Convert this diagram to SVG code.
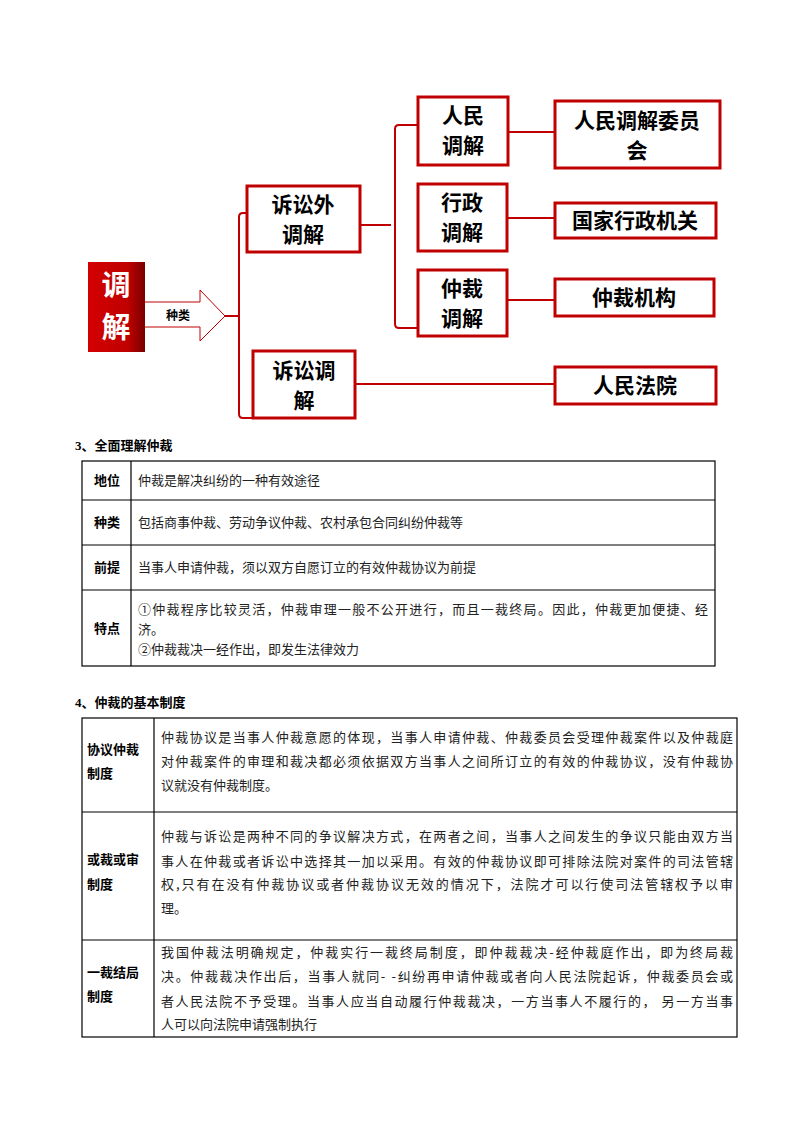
<svg xmlns="http://www.w3.org/2000/svg" width="800" height="1132" viewBox="0 0 800 1132">
<style>
.bx{fill:#fff;stroke:#c00000;stroke-width:3}
.ln{fill:none;stroke:#c00000;stroke-width:2}
.nt{font-family:"Noto Sans CJK SC",sans-serif;font-weight:bold;font-size:21px;fill:#000;text-anchor:middle}
.tb{fill:none;stroke:#000;stroke-width:1.2}
.h{font-family:"Liberation Serif","Noto Sans CJK SC",serif;font-weight:bold;font-size:13px;fill:#000}
.b{font-family:"Noto Sans CJK SC",sans-serif;font-size:13px;fill:#222}
</style>
<defs>
<linearGradient id="rg" x1="0" y1="0" x2="1" y2="0">
<stop offset="0" stop-color="#d40000"/><stop offset="0.7" stop-color="#c00000"/><stop offset="1" stop-color="#7a0000"/>
</linearGradient>
</defs>
<rect width="800" height="1132" fill="#fff"/>
<g id="connectors">
<path class="ln" d="M225,316 H239 M250,213 H243 Q239,213 239,217 V414 Q239,418 243,418 H252"/>
<path class="ln" d="M360,225 H391 M420,125 H399 Q395,125 395,129 V324 Q395,328 399,328 H420"/>
<path class="ln" d="M508,132 H555 M507,218 H555 M507,300 H555 M355,384 H555" stroke-width="1.5"/>
</g>
<g id="n-tiaojie"><rect x="88" y="262" width="57" height="90" fill="url(#rg)"/>
<text x="116" y="296" font-family="Noto Sans CJK SC,sans-serif" font-weight="bold" font-size="29" fill="#fff" text-anchor="middle">调</text>
<text x="116" y="338" font-family="Noto Sans CJK SC,sans-serif" font-weight="bold" font-size="29" fill="#fff" text-anchor="middle">解</text></g>
<g id="n-arrow"><path d="M145,302 H200 V290 L225,316 L200,341 V327 H145" fill="#fff" stroke="#c00000" stroke-width="1"/>
<text x="178" y="320" font-family="Noto Sans CJK SC,sans-serif" font-weight="bold" font-size="12" text-anchor="middle">种类</text></g>
<g id="n-wai"><rect class="bx" x="247" y="186" width="113" height="66"/><text class="nt" x="303" y="212">诉讼外</text><text class="nt" x="303" y="242">调解</text></g>
<g id="n-susong"><rect class="bx" x="253" y="351" width="102" height="67"/><text class="nt" x="304" y="378">诉讼调</text><text class="nt" x="304" y="408">解</text></g>
<g id="n-renmin"><rect class="bx" x="418" y="97" width="90" height="68"/><text class="nt" x="463" y="123">人民</text><text class="nt" x="463" y="153">调解</text></g>
<g id="n-xingzheng"><rect class="bx" x="418" y="184" width="89" height="67"/><text class="nt" x="462" y="210">行政</text><text class="nt" x="462" y="240">调解</text></g>
<g id="n-zhongcai"><rect class="bx" x="418" y="270" width="89" height="66"/><text class="nt" x="462" y="296">仲裁</text><text class="nt" x="462" y="326">调解</text></g>
<g id="n-wyh"><rect class="bx" x="555" y="101" width="165" height="67"/><text class="nt" x="637" y="128">人民调解委员</text><text class="nt" x="637" y="158">会</text></g>
<g id="n-jg"><rect class="bx" x="555" y="203" width="161" height="35"/><text class="nt" x="635" y="228">国家行政机关</text></g>
<g id="n-zcjg"><rect class="bx" x="555" y="279" width="159" height="37"/><text class="nt" x="634" y="305">仲裁机构</text></g>
<g id="n-fy"><rect class="bx" x="555" y="367" width="161" height="37"/><text class="nt" x="635" y="393">人民法院</text></g>

<g id="table1">
<text class="h" x="75" y="450">3、全面理解仲裁</text>
<rect class="tb" x="82" y="461" width="633" height="205"/>
<path class="tb" d="M131,461 V666 M82,500 H715 M82,545 H715 M82,590 H715"/>
<text class="h" x="94" y="485">地位</text><text class="b" x="138" y="485">仲裁是解决纠纷的一种有效途径</text>
<text class="h" x="94" y="527">种类</text><text class="b" x="138" y="527">包括商事仲裁、劳动争议仲裁、农村承包合同纠纷仲裁等</text>
<text class="h" x="94" y="572">前提</text><text class="b" x="138" y="572">当事人申请仲裁，须以双方自愿订立的有效仲裁协议为前提</text>
<text class="h" x="94" y="633">特点</text>
<text class="b" x="138" y="614" textLength="570" lengthAdjust="spacing">①仲裁程序比较灵活，仲裁审理一般不公开进行，而且一裁终局。因此，仲裁更加便捷、经</text>
<text class="b" x="138" y="634">济。</text>
<text class="b" x="138" y="654">②仲裁裁决一经作出，即发生法律效力</text>
</g>
<g id="table2">
<text class="h" x="75" y="707">4、仲裁的基本制度</text>
<rect class="tb" x="82" y="718" width="655" height="319"/>
<path class="tb" d="M154,718 V1037 M82,812 H737 M82,940 H737"/>
<text class="h" x="87" y="754">协议仲裁</text><text class="h" x="87" y="778">制度</text>
<text class="b" x="161" y="742" textLength="572" lengthAdjust="spacing">仲裁协议是当事人仲裁意愿的体现，当事人申请仲裁、仲裁委员会受理仲裁案件以及仲裁庭</text>
<text class="b" x="161" y="766" textLength="572" lengthAdjust="spacing">对仲裁案件的审理和裁决都必须依据双方当事人之间所订立的有效的仲裁协议，没有仲裁协</text>
<text class="b" x="161" y="790">议就没有仲裁制度。</text>
<text class="h" x="87" y="864">或裁或审</text><text class="h" x="87" y="889">制度</text>
<text class="b" x="161" y="841" textLength="572" lengthAdjust="spacing">仲裁与诉讼是两种不同的争议解决方式，在两者之间，当事人之间发生的争议只能由双方当</text>
<text class="b" x="161" y="866" textLength="572" lengthAdjust="spacing">事人在仲裁或者诉讼中选择其一加以采用。有效的仲裁协议即可排除法院对案件的司法管辖</text>
<text class="b" x="161" y="889" textLength="572" lengthAdjust="spacing">权,只有在没有仲裁协议或者仲裁协议无效的情况下，法院才可以行使司法管辖权予以审</text>
<text class="b" x="161" y="913">理。</text>
<text class="h" x="87" y="977">一裁结局</text><text class="h" x="87" y="1001">制度</text>
<text class="b" x="161" y="957" textLength="572" lengthAdjust="spacing">我国仲裁法明确规定，仲裁实行一裁终局制度，即仲裁裁决-经仲裁庭作出，即为终局裁</text>
<text class="b" x="161" y="981" textLength="572" lengthAdjust="spacing">决。仲裁裁决作出后，当事人就同-  -纠纷再申请仲裁或者向人民法院起诉，仲裁委员会或</text>
<text class="b" x="161" y="1006" textLength="572" lengthAdjust="spacing">者人民法院不予受理。当事人应当自动履行仲裁裁决，一方当事人不履行的，   另一方当事</text>
<text class="b" x="161" y="1029">人可以向法院申请强制执行</text>
</g>
</svg>
